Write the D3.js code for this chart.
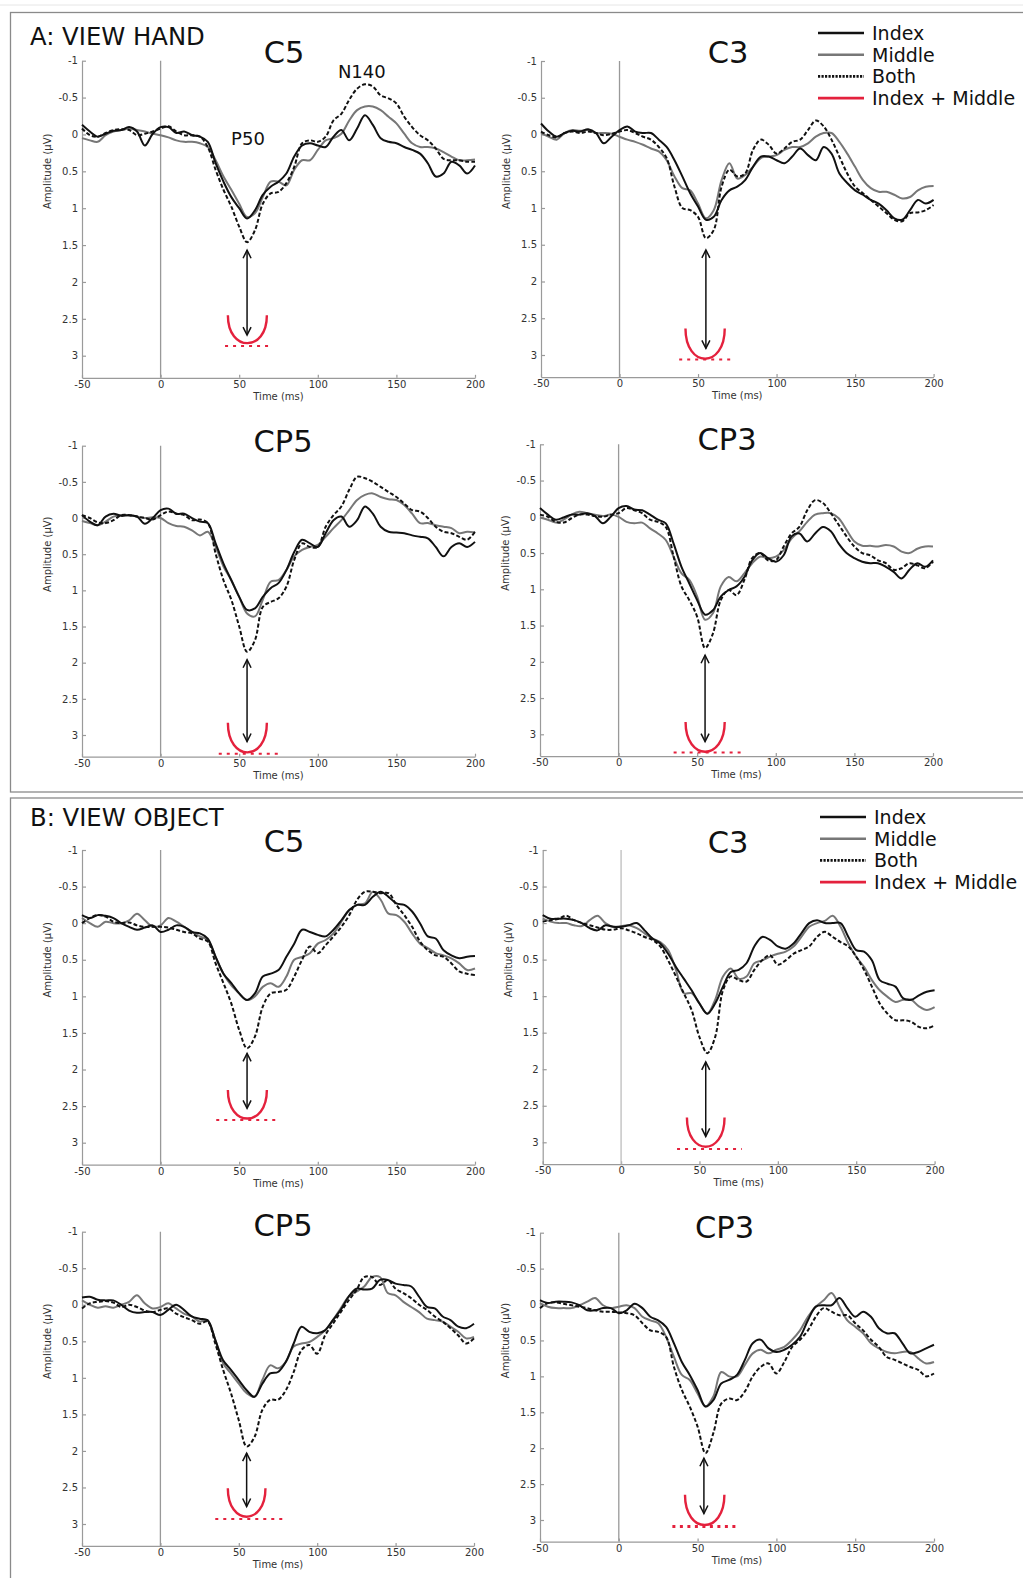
<!DOCTYPE html>
<html>
<head>
<meta charset="utf-8">
<script src="https://d3js.org/d3.v7.min.js"></script>
<style>
  body { margin: 0; background: #fff; }
  svg { display: block; font-family: "DejaVu Sans", Verdana, sans-serif; }
  .axis path, .axis line { stroke: #9a9a9a; stroke-width: 1.2; }
  .axis text { fill: #333; font-size: 10px; font-family: "DejaVu Sans", Verdana, sans-serif; }
</style>
</head>
<body>
<div id="figure"></div>
<script>
// Time samples (ms)
const times = [-50, -45, -40, -35, -30, -25, -20, -15, -10, -5,
               0, 5, 10, 15, 20, 25, 30, 35, 40, 45,
               50, 55, 60, 65, 70, 75, 80, 85, 90, 95,
               100, 105, 110, 115, 120, 125, 130, 135, 140, 145,
               150, 155, 160, 165, 170, 175, 180, 185, 190, 195,
               200];

const xTicks = [-50, 0, 50, 100, 150, 200];
const xTickLabels = ["-50", "0", "50", "100", "150", "200"];
const yTicks = [-1, -0.5, 0, 0.5, 1, 1.5, 2, 2.5, 3];
const yTickLabels = ["-1", "-0.5", "0", "0.5", "1", "1.5", "2", "2.5", "3"];

const sectionTitles = ["A: VIEW HAND", "B: VIEW OBJECT"];
const panelTitles = ["C5", "C3", "CP5", "CP3", "C5", "C3", "CP5", "CP3"];
const legendLabels = ["Index", "Middle", "Both", "Index + Middle"];
const componentLabels = ["P50", "N140"];

// A: view hand
const handC5Index = [-0.13,-0.04,0.03,-0.01,-0.05,-0.06,-0.10,-0.04,0.15,-0.01,
  -0.10,-0.10,-0.02,-0.04,0.01,0.03,0.10,0.39,0.64,0.85,
  1.00,1.14,1.03,0.82,0.71,0.64,0.53,0.30,0.15,0.12,
  0.15,0.17,0.03,-0.06,0.08,-0.08,-0.26,-0.13,0.05,0.10,
  0.12,0.17,0.21,0.26,0.39,0.57,0.53,0.37,0.42,0.53,
  0.42];
const handC5Middle = [0.05,0.08,0.10,0.01,-0.04,-0.06,-0.08,-0.06,-0.04,-0.01,
  0.01,0.04,0.08,0.10,0.10,0.12,0.17,0.35,0.57,0.75,
  0.94,1.12,1.07,0.85,0.64,0.64,0.69,0.48,0.35,0.35,
  0.21,0.08,0.05,-0.01,-0.19,-0.33,-0.38,-0.38,-0.33,-0.24,
  -0.15,-0.01,0.12,0.17,0.17,0.19,0.24,0.30,0.35,0.35,
  0.34];
const handC5Both = [-0.08,0.01,0.03,-0.02,-0.06,-0.07,-0.06,0.01,-0.01,-0.04,
  -0.08,-0.11,-0.04,0.01,0.01,0.03,0.17,0.48,0.75,0.98,
  1.25,1.46,1.30,0.94,0.80,0.78,0.66,0.44,0.12,0.08,
  0.10,0.03,-0.19,-0.28,-0.47,-0.62,-0.68,-0.65,-0.53,-0.49,
  -0.42,-0.24,-0.10,0.01,0.08,0.19,0.33,0.35,0.35,0.37,
  0.37];

const handC3Index = [-0.15,-0.04,0.03,-0.02,-0.05,-0.04,-0.07,-0.02,0.12,0.03,
  -0.06,-0.11,-0.04,-0.02,-0.02,0.07,0.17,0.35,0.57,0.80,
  0.98,1.16,1.12,0.89,0.76,0.71,0.62,0.44,0.30,0.30,
  0.35,0.39,0.30,0.19,0.28,0.35,0.17,0.26,0.53,0.66,
  0.76,0.82,0.89,0.94,1.03,1.14,1.16,1.03,0.89,0.94,
  0.89];
const handC3Middle = [-0.02,0.03,0.07,-0.02,-0.06,-0.05,-0.06,-0.02,-0.02,-0.01,
  0.03,0.07,0.10,0.14,0.19,0.23,0.35,0.57,0.73,0.76,
  0.94,1.14,1.03,0.62,0.39,0.60,0.55,0.44,0.32,0.30,
  0.28,0.21,0.17,0.17,0.12,0.03,-0.02,-0.02,0.10,0.26,
  0.44,0.62,0.73,0.78,0.78,0.82,0.87,0.85,0.76,0.71,
  0.70];
const handC3Both = [-0.04,0.01,0.04,-0.02,-0.04,-0.02,-0.04,-0.02,0.01,-0.01,
  -0.04,-0.06,-0.02,0.03,0.07,0.17,0.32,0.71,1.00,1.03,
  1.12,1.41,1.30,0.71,0.48,0.57,0.53,0.21,0.07,0.14,
  0.26,0.19,0.10,0.07,-0.06,-0.19,-0.11,0.07,0.30,0.53,
  0.71,0.80,0.89,0.98,1.07,1.16,1.18,1.07,1.06,1.03,
  0.96];

const handCP5Index = [-0.04,0.05,0.10,-0.02,-0.06,-0.03,-0.04,-0.02,0.08,0.00,
  -0.11,-0.13,-0.06,-0.06,0.00,0.05,0.07,0.35,0.63,0.86,
  1.09,1.27,1.25,1.09,0.97,0.90,0.72,0.47,0.30,0.35,
  0.40,0.21,0.03,-0.02,0.12,0.03,-0.16,-0.06,0.12,0.19,
  0.20,0.21,0.24,0.26,0.28,0.40,0.53,0.40,0.35,0.40,
  0.33];
const handCP5Middle = [0.04,0.07,0.10,0.05,-0.02,-0.04,-0.04,-0.02,0.00,-0.01,
  0.00,0.07,0.11,0.12,0.17,0.24,0.19,0.40,0.67,0.86,
  1.09,1.32,1.36,1.13,0.88,0.86,0.72,0.53,0.44,0.40,
  0.37,0.26,0.14,0.03,-0.11,-0.25,-0.32,-0.34,-0.29,-0.26,
  -0.25,-0.18,-0.06,0.07,0.07,0.10,0.12,0.14,0.21,0.19,
  0.20];
const handCP5Both = [-0.04,0.00,0.06,0.07,0.03,-0.04,-0.04,-0.02,0.00,0.02,
  -0.04,-0.09,-0.06,-0.04,0.03,0.02,0.07,0.49,0.86,1.13,
  1.50,1.85,1.69,1.23,1.16,1.11,0.95,0.58,0.35,0.40,
  0.40,0.12,-0.04,-0.16,-0.39,-0.57,-0.55,-0.50,-0.43,-0.36,
  -0.29,-0.20,-0.11,-0.09,0.00,0.12,0.19,0.21,0.26,0.30,
  0.19];

const handCP3Index = [-0.12,-0.03,0.04,0.01,-0.03,-0.03,-0.05,-0.01,0.09,0.00,
  -0.12,-0.15,-0.10,-0.09,-0.03,0.04,0.09,0.37,0.69,0.92,
  1.15,1.35,1.29,1.10,1.01,0.96,0.83,0.60,0.50,0.57,
  0.62,0.53,0.27,0.23,0.34,0.23,0.14,0.20,0.37,0.50,
  0.57,0.62,0.64,0.64,0.69,0.76,0.85,0.73,0.64,0.69,
  0.60];
const handCP3Middle = [0.01,0.04,0.08,0.04,-0.03,-0.07,-0.05,-0.03,-0.01,-0.03,
  0.00,0.07,0.09,0.08,0.16,0.23,0.32,0.55,0.78,0.87,
  1.10,1.42,1.33,0.96,0.83,0.89,0.78,0.64,0.55,0.57,
  0.55,0.46,0.30,0.20,0.07,-0.03,-0.05,-0.05,0.02,0.18,
  0.34,0.40,0.40,0.41,0.39,0.41,0.48,0.50,0.44,0.41,
  0.41];
const handCP3Both = [-0.03,0.00,0.07,0.08,0.02,-0.03,-0.03,-0.01,0.00,-0.03,
  -0.05,-0.12,-0.09,-0.05,0.04,0.07,0.14,0.55,0.96,1.15,
  1.38,1.81,1.61,1.15,1.01,1.08,0.87,0.57,0.50,0.60,
  0.60,0.41,0.23,0.14,-0.09,-0.23,-0.19,-0.05,0.11,0.27,
  0.41,0.50,0.53,0.60,0.64,0.73,0.71,0.64,0.67,0.71,
  0.62];

// B: view object
const objC5Index = [-0.11,-0.07,-0.11,-0.10,-0.07,0.00,0.05,0.09,0.06,0.03,
  0.12,0.09,0.03,0.05,0.12,0.14,0.21,0.46,0.69,0.82,
  0.96,1.05,0.96,0.73,0.69,0.64,0.46,0.28,0.09,0.12,
  0.16,0.18,0.09,-0.04,-0.18,-0.25,-0.25,-0.36,-0.43,-0.36,
  -0.27,-0.25,-0.16,0.00,0.18,0.21,0.37,0.44,0.48,0.46,
  0.45];
const objC5Middle = [-0.07,0.00,0.05,-0.02,0.00,0.00,-0.04,-0.13,-0.04,0.05,
  0.03,-0.07,-0.02,0.05,0.12,0.18,0.23,0.46,0.69,0.85,
  0.96,1.05,1.00,0.87,0.82,0.87,0.73,0.50,0.46,0.41,
  0.28,0.23,0.14,-0.02,-0.18,-0.25,-0.27,-0.43,-0.32,-0.13,
  -0.11,-0.02,0.14,0.28,0.34,0.41,0.44,0.48,0.55,0.64,
  0.62];
const objC5Both = [0.00,-0.07,-0.11,-0.09,-0.02,0.00,-0.01,0.03,0.05,0.05,
  0.05,0.06,0.09,0.12,0.14,0.21,0.25,0.55,0.82,1.10,
  1.46,1.71,1.55,1.14,0.96,0.94,0.91,0.73,0.50,0.32,
  0.41,0.30,0.18,0.05,-0.11,-0.32,-0.43,-0.43,-0.41,-0.41,
  -0.25,-0.11,0.05,0.25,0.37,0.44,0.46,0.55,0.66,0.69,
  0.71];

const objC3Index = [-0.11,-0.06,-0.06,-0.06,-0.04,0.00,0.07,0.10,0.03,0.05,
  0.05,0.03,0.00,0.10,0.21,0.28,0.42,0.60,0.76,0.92,
  1.10,1.24,1.10,0.87,0.67,0.64,0.55,0.32,0.19,0.23,
  0.32,0.35,0.28,0.14,0.00,-0.04,0.00,0.00,0.00,0.19,
  0.37,0.39,0.51,0.78,0.83,0.87,1.03,1.05,0.99,0.94,
  0.92];
const objC3Middle = [-0.06,-0.02,0.00,0.00,0.03,0.04,-0.04,-0.10,0.00,0.05,
  0.04,0.03,0.07,0.14,0.21,0.26,0.37,0.64,0.96,0.96,
  1.10,1.24,1.05,0.73,0.62,0.76,0.73,0.55,0.51,0.46,
  0.42,0.39,0.32,0.19,0.05,0.00,-0.03,-0.10,0.05,0.28,
  0.46,0.60,0.78,0.92,1.01,1.08,1.05,1.05,1.14,1.19,
  1.15];
const objC3Both = [-0.02,-0.04,-0.06,-0.10,-0.04,0.00,0.03,0.06,0.09,0.09,
  0.07,0.10,0.14,0.19,0.23,0.32,0.51,0.73,0.96,1.19,
  1.56,1.78,1.56,0.92,0.73,0.78,0.80,0.64,0.51,0.44,
  0.57,0.51,0.42,0.37,0.32,0.19,0.12,0.19,0.26,0.32,
  0.46,0.64,0.87,1.10,1.24,1.33,1.33,1.35,1.42,1.44,
  1.40];

const objCP5Index = [-0.10,-0.11,-0.07,-0.06,-0.06,0.00,0.08,0.11,0.10,0.10,
  0.14,0.07,0.00,0.07,0.16,0.19,0.21,0.48,0.76,0.89,
  1.03,1.17,1.26,1.08,0.94,0.92,0.78,0.53,0.30,0.37,
  0.39,0.35,0.21,0.07,-0.11,-0.22,-0.21,-0.22,-0.34,-0.34,
  -0.29,-0.27,-0.25,-0.11,0.03,0.05,0.16,0.21,0.30,0.32,
  0.26];
const objCP5Middle = [-0.06,0.00,0.04,0.02,0.04,0.00,-0.04,-0.13,-0.02,0.05,
  0.03,-0.02,0.05,0.12,0.16,0.23,0.21,0.48,0.80,0.94,
  1.08,1.21,1.26,1.03,0.83,0.87,0.78,0.57,0.53,0.51,
  0.44,0.35,0.21,0.05,-0.11,-0.18,-0.25,-0.38,-0.38,-0.16,
  -0.13,-0.04,0.03,0.10,0.19,0.21,0.23,0.30,0.37,0.46,
  0.44];
const objCP5Both = [0.05,-0.02,-0.04,-0.05,-0.03,0.03,0.00,0.03,0.08,0.10,
  0.07,0.05,0.12,0.17,0.21,0.26,0.23,0.53,0.89,1.21,
  1.58,1.94,1.81,1.44,1.30,1.30,1.17,0.92,0.62,0.55,
  0.67,0.42,0.26,0.10,-0.06,-0.20,-0.38,-0.38,-0.27,-0.34,
  -0.22,-0.16,-0.09,0.00,0.07,0.16,0.23,0.32,0.42,0.53,
  0.46];

const objCP3Index = [-0.06,-0.02,-0.04,-0.04,-0.03,0.01,0.08,0.08,0.05,0.05,
  0.12,0.08,-0.01,0.05,0.17,0.22,0.31,0.54,0.80,0.98,
  1.19,1.42,1.33,1.10,1.05,0.98,0.77,0.54,0.49,0.61,
  0.66,0.63,0.56,0.45,0.22,0.03,0.01,0.01,-0.09,0.05,
  0.17,0.10,0.17,0.33,0.40,0.40,0.54,0.68,0.66,0.61,
  0.56];
const objCP3Middle = [-0.02,0.03,0.05,0.05,0.05,0.01,-0.04,-0.09,0.01,0.05,
  0.03,0.01,0.05,0.17,0.22,0.26,0.45,0.73,0.98,1.05,
  1.24,1.42,1.28,0.94,1.00,1.00,0.84,0.68,0.63,0.68,
  0.63,0.59,0.49,0.36,0.17,0.03,-0.06,-0.16,0.03,0.22,
  0.31,0.40,0.54,0.61,0.66,0.68,0.66,0.66,0.75,0.82,
  0.80];
const objCP3Both = [0.05,-0.02,-0.03,-0.01,0.01,0.03,0.05,0.08,0.10,0.10,
  0.11,0.12,0.15,0.26,0.36,0.38,0.45,0.87,1.19,1.42,
  1.70,2.07,1.79,1.38,1.31,1.33,1.21,1.00,0.87,0.82,
  0.96,0.80,0.59,0.49,0.36,0.17,0.05,0.10,0.15,0.15,
  0.26,0.36,0.49,0.59,0.73,0.77,0.82,0.87,0.91,1.00,
  0.96];

// Index + Middle annotation (one value per panel, panel order as panelTitles)
const peakTime    = [55, 55, 55, 55, 55, 54, 55, 54];
const arrowTop    = [1.57, 1.57, 1.96, 1.91, 1.78, 1.90, 2.03, 2.14];
const arrowBottom = [2.72, 2.91, 3.09, 3.10, 2.53, 2.92, 2.76, 2.91];
const sumArmTop   = [2.45, 2.64, 2.83, 2.83, 2.28, 2.66, 2.51, 2.65];
const sumPeak     = [2.83, 3.05, 3.24, 3.24, 2.67, 3.06, 2.90, 3.07];
const sumArmLeft  = [42.8, 42, 42.8, 42.6, 42.8, 42, 43, 42];
const sumArmRight = [67.6, 67, 67.6, 67.5, 67.6, 66, 67, 67];
const sumLevel    = [2.87, 3.06, 3.26, 3.25, 2.69, 3.09, 2.93, 3.09];
const sumLineFrom = [41, 38, 37, 35, 35.4, 35.7, 35, 34];
const sumLineTo   = [69, 72.6, 77, 78, 74, 77, 79, 76];

const panelSeries = [
  [handC5Index, handC5Middle, handC5Both],
  [handC3Index, handC3Middle, handC3Both],
  [handCP5Index, handCP5Middle, handCP5Both],
  [handCP3Index, handCP3Middle, handCP3Both],
  [objC5Index, objC5Middle, objC5Both],
  [objC3Index, objC3Middle, objC3Both],
  [objCP5Index, objCP5Middle, objCP5Both],
  [objCP3Index, objCP3Middle, objCP3Both]
];

// Layout: [x of -50, x of 200, y of -1, y of 3]
const panelBoxes = [
  [82, 475, 60.7, 355.7],
  [541, 933.6, 61, 355],
  [82, 475, 445.7, 735],
  [540, 933, 444.3, 734.3],
  [82, 475, 850, 1142.7],
  [542.7, 934.6, 850, 1142.3],
  [82, 474, 1231.7, 1524],
  [540, 934, 1232.7, 1520]
];
const titleX = [284, 728, 283, 727, 284, 728, 283, 724.5];
const titleDy = [2, 2, 6, 6, 2, 3, 4, 5];

const red = "#e4213d";
const seriesColor = ["#111", "#777", "#111"];
const seriesDash = [null, null, "4,2.2"];
const drawOrder = [1, 0, 2];

const W = 1023, H = 1578;
const svg = d3.select("#figure").append("svg")
  .attr("width", W)
  .attr("height", H);

svg.append("rect").attr("width", W).attr("height", H).attr("fill", "#fff");

// frames
svg.append("line")
  .attr("x1", 0).attr("x2", W).attr("y1", 5).attr("y2", 5)
  .attr("stroke", "#e6e6e6").attr("stroke-width", 1);
svg.append("rect")
  .attr("x", 10.5).attr("y", 12.5).attr("width", W).attr("height", 779.5)
  .attr("fill", "none").attr("stroke", "#8a8a8a").attr("stroke-width", 1.3);
svg.append("rect")
  .attr("x", 10.5).attr("y", 798).attr("width", W).attr("height", H)
  .attr("fill", "none").attr("stroke", "#8a8a8a").attr("stroke-width", 1.3);

// section titles
svg.append("text").attr("x", 30).attr("y", 45)
  .style("font-size", "24.3px").attr("fill", "#111").text(sectionTitles[0]);
svg.append("text").attr("x", 30).attr("y", 826)
  .style("font-size", "24.3px").attr("fill", "#111").text(sectionTitles[1]);

panelBoxes.forEach((box, p) => {
  const [xl, xr, yt, y3] = box;
  const x = d3.scaleLinear().domain([-50, 200]).range([xl, xr]);
  const y = d3.scaleLinear().domain([-1, 3]).range([yt, y3]);
  const yBottom = y(3.3);
  const g = svg.append("g");

  // y axis
  g.append("g")
    .attr("class", "axis")
    .attr("transform", `translate(${xl},0)`)
    .call(d3.axisLeft(d3.scaleLinear().domain([-1, 3.3]).range([yt, yBottom]))
      .tickValues(yTicks)
      .tickFormat((d, i) => yTickLabels[i])
      .tickSizeInner(-4)
      .tickSizeOuter(0)
      .tickPadding(4));

  // x axis
  g.append("g")
    .attr("class", "axis")
    .attr("transform", `translate(0,${yBottom})`)
    .call(d3.axisBottom(x)
      .tickValues(xTicks)
      .tickFormat((d, i) => xTickLabels[i])
      .tickSizeInner(-3)
      .tickSizeOuter(0)
      .tickPadding(3));

  // stimulus onset
  g.append("line")
    .attr("x1", x(0)).attr("x2", x(0))
    .attr("y1", yt).attr("y2", yBottom)
    .attr("stroke", p === 5 ? "#bdbdbd" : "#999").attr("stroke-width", 1.3);

  // axis labels
  g.append("text")
    .attr("transform", `translate(${xl - 31},${y(0.5)}) rotate(-90)`)
    .attr("text-anchor", "middle")
    .style("font-size", "10px")
    .attr("fill", "#333")
    .text("Amplitude (\u03bcV)");
  g.append("text")
    .attr("x", (xl + xr) / 2)
    .attr("y", yBottom + 22)
    .attr("text-anchor", "middle")
    .style("font-size", "10px")
    .attr("fill", "#333")
    .text("Time (ms)");

  // title
  g.append("text")
    .attr("x", titleX[p])
    .attr("y", yt + titleDy[p])
    .attr("text-anchor", "middle")
    .style("font-size", "30.5px")
    .attr("fill", "#111")
    .text(panelTitles[p]);

  // ERP traces
  const line = d3.line()
    .x((d, i) => x(times[i]))
    .y(d => y(d))
    .curve(d3.curveCatmullRom.alpha(0.5));

  drawOrder.forEach(s => {
    g.append("path")
      .datum(panelSeries[p][s])
      .attr("d", line)
      .attr("fill", "none")
      .attr("stroke", seriesColor[s])
      .attr("stroke-width", 2)
      .attr("stroke-dasharray", seriesDash[s])
      .attr("stroke-linejoin", "round");
  });

  // Index + Middle sum marker
  const ul = x(sumArmLeft[p]), ur = x(sumArmRight[p]);
  const uTop = y(sumArmTop[p]), uBot = y(sumPeak[p]);
  const uCtrl = (4 * uBot - uTop) / 3;
  g.append("path")
    .attr("d", `M${ul},${uTop} C${ul},${uCtrl} ${ur},${uCtrl} ${ur},${uTop}`)
    .attr("fill", "none")
    .attr("stroke", red)
    .attr("stroke-width", 2.4);
  g.append("line")
    .attr("x1", x(sumLineFrom[p])).attr("x2", x(sumLineTo[p]))
    .attr("y1", y(sumLevel[p])).attr("y2", y(sumLevel[p]))
    .attr("stroke", red)
    .attr("stroke-width", p === 7 ? 3 : 2)
    .attr("stroke-dasharray", p === 7 ? "3,4.5" : "3,5");

  // double arrow
  const ax = x(peakTime[p]), a1 = y(arrowTop[p]), a2 = y(arrowBottom[p]);
  g.append("line")
    .attr("x1", ax).attr("x2", ax).attr("y1", a1).attr("y2", a2)
    .attr("stroke", "#111").attr("stroke-width", 1.5);
  g.append("path")
    .attr("d", `M${ax - 4},${a1 + 8} L${ax},${a1} L${ax + 4},${a1 + 8}`
      + ` M${ax - 4},${a2 - 8} L${ax},${a2} L${ax + 4},${a2 - 8}`)
    .attr("fill", "none").attr("stroke", "#111").attr("stroke-width", 1.5);

  // component labels (first panel only)
  if (p === 0) {
    g.append("text")
      .attr("x", x(55.6)).attr("y", y(0.14))
      .attr("text-anchor", "middle")
      .style("font-size", "18px").attr("fill", "#111")
      .text(componentLabels[0]);
    g.append("text")
      .attr("x", x(128)).attr("y", y(-0.77))
      .attr("text-anchor", "middle")
      .style("font-size", "18px").attr("fill", "#111")
      .text(componentLabels[1]);
  }
});

// legends
const legendX = [818, 820];
const legendY = [33, 817];
const legendColor = ["#111", "#777", "#111", red];
const legendDash = [null, null, "2.2,1.3", null];
legendY.forEach((ly, k) => {
  const lg = svg.append("g");
  legendLabels.forEach((label, i) => {
    const yy = ly + i * 21.7;
    lg.append("line")
      .attr("x1", legendX[k]).attr("x2", legendX[k] + 46)
      .attr("y1", yy).attr("y2", yy)
      .attr("stroke", legendColor[i])
      .attr("stroke-width", 2.6)
      .attr("stroke-dasharray", legendDash[i]);
    lg.append("text")
      .attr("x", legendX[k] + 54)
      .attr("y", yy + 6.8)
      .style("font-size", "19px")
      .attr("fill", "#111")
      .text(label);
  });
});
</script>
</body>
</html>
